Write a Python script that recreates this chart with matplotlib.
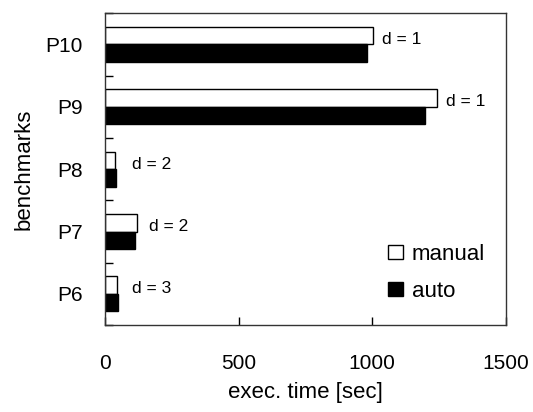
import matplotlib
matplotlib.use("Agg")
import matplotlib.pyplot as plt
from matplotlib.patches import Patch
import numpy as np

plt.rcParams['font.family'] = ['Liberation Sans', 'DejaVu Sans']

benchmarks = ["P6", "P7", "P8", "P9", "P10"]
manual = [46, 118, 38, 1243, 1002]
auto = [47, 112, 40, 1196, 981]
d_labels = ["d = 3", "d = 2", "d = 2", "d = 1", "d = 1"]
xticks = [0, 500, 1000, 1500]

fig = plt.figure(figsize=(5.33, 4.12), dpi=100)
ax = fig.add_axes([0.197, 0.211, 0.752, 0.757])

y = np.arange(len(benchmarks))
h = 0.28
ax.barh(y + h / 2, manual, height=h, color="white", edgecolor="black", linewidth=1.0)
ax.barh(y - h / 2, auto, height=h, color="black", edgecolor="black", linewidth=1.0)

label_off_px = [15, 12, 17, 9, 9]
for i, (m, lab) in enumerate(zip(manual, d_labels)):
    ax.annotate(lab, xy=(m, y[i] + 0.08), xytext=(label_off_px[i] * 0.72, 0),
                textcoords="offset points", va="center", ha="left", fontsize=12.5)

ax.set_xlim(0, 1500)
ax.set_ylim(-0.5, len(benchmarks) - 0.5)
ax.set_xticks(xticks)
ax.set_xticklabels([str(t) for t in xticks])
ax.set_yticks(y)
ax.set_yticklabels(benchmarks)
ax.set_yticks(np.arange(-0.5, len(benchmarks)), minor=True)
ax.tick_params(axis="y", which="major", length=0, pad=16, labelsize=15)
ax.tick_params(axis="y", which="minor", direction="in", length=6, width=1)
ax.tick_params(axis="x", which="major", direction="in", length=6, width=1, pad=21, labelsize=15)

for s in ax.spines.values():
    s.set_linewidth(1.0)
    s.set_color("#333333")

ax.set_xlabel("exec. time [sec]", fontsize=16, labelpad=6)
ax.set_ylabel("benchmarks", fontsize=16, labelpad=8)

handles = [Patch(facecolor="white", edgecolor="black", linewidth=1.0),
           Patch(facecolor="black", edgecolor="black", linewidth=1.0)]
ax.legend(handles, ["manual", "auto"], loc="lower right", bbox_to_anchor=(0.97, 0.046),
          frameon=False, fontsize=16, handlelength=0.65, handleheight=0.65,
          handletextpad=0.4, labelspacing=0.72, borderaxespad=0)

fig.savefig("out.png", dpi=100)
